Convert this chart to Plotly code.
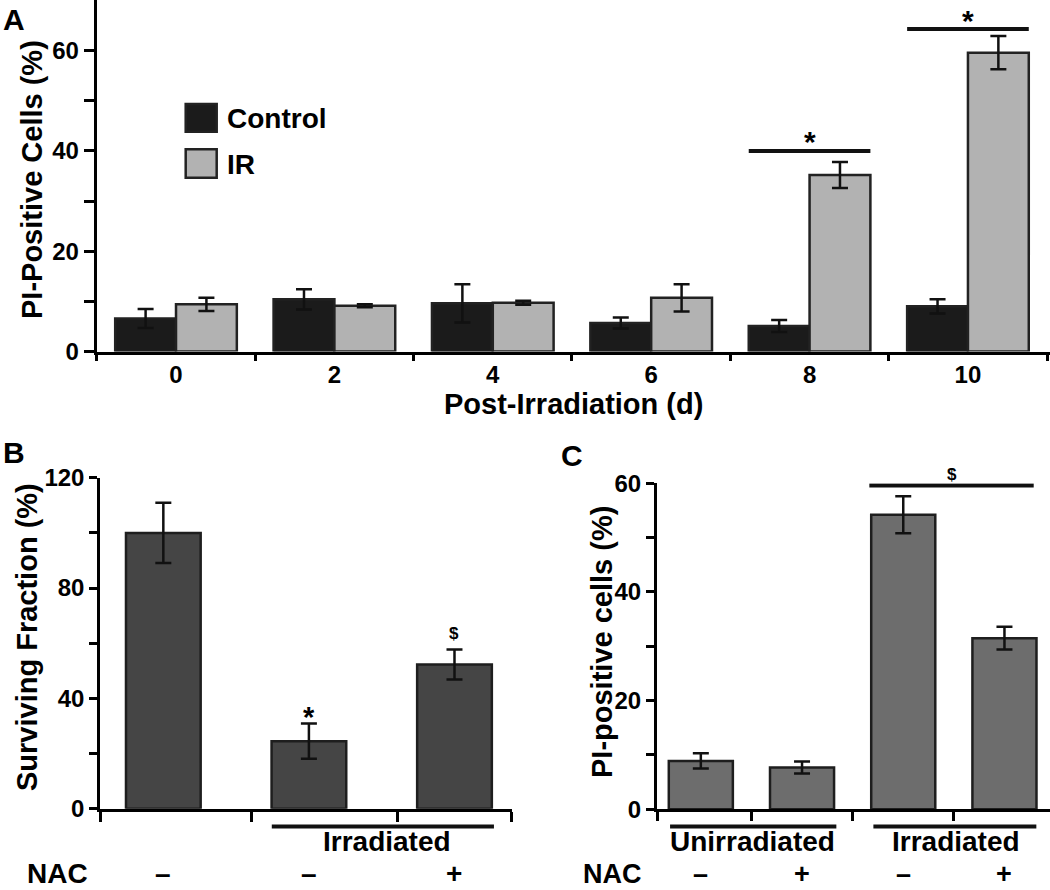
import plotly.graph_objects as go

# ---------------- data ----------------
days = ["0", "2", "4", "6", "8", "10"]
control_vals = [6.6, 10.4, 9.6, 5.7, 5.1, 9.0]
control_err = [1.9, 2.0, 3.8, 1.1, 1.2, 1.4]
ir_vals = [9.4, 9.1, 9.7, 10.7, 35.2, 59.6]
ir_err = [1.3, 0.3, 0.4, 2.7, 2.6, 3.3]

b_groups = ["Control", "Irradiated", "Irradiated + NAC"]
b_vals = [100.0, 24.5, 52.3]
b_err = [10.9, 6.4, 5.4]
b_nac = ["–", "–", "+"]

c_groups = ["Unirradiated", "Unirradiated + NAC", "Irradiated", "Irradiated + NAC"]
c_vals = [8.9, 7.7, 54.2, 31.5]
c_err = [1.4, 1.1, 3.4, 2.1]
c_nac = ["–", "+", "–", "+"]

W, H = 1050, 890
FONT = "Arial"


def px(x):
    return x / W


def py(y):
    return 1 - y / H


fig = go.Figure()

# ---------- Panel A ----------
xa = list(range(len(days)))
bw = 0.384
err_style = dict(type="data", thickness=2.5, width=8, color="#111111")
fig.add_trace(go.Bar(
    x=xa, y=control_vals, width=bw, offset=-bw, name="Control",
    marker=dict(color="#1b1b1b", line=dict(color="#222222", width=2.5)),
    error_y=dict(array=control_err, **err_style),
    xaxis="x", yaxis="y", showlegend=False))
fig.add_trace(go.Bar(
    x=xa, y=ir_vals, width=bw, offset=0, name="IR",
    marker=dict(color="#b2b2b2", line=dict(color="#222222", width=2.5)),
    error_y=dict(array=ir_err, **err_style),
    xaxis="x", yaxis="y", showlegend=False))

# ---------- Panel B ----------
xb = list(range(len(b_vals)))
fig.add_trace(go.Bar(
    x=xb, y=b_vals, width=0.513, name="Surviving fraction",
    marker=dict(color="#454545", line=dict(color="#1e1e1e", width=2.5)),
    error_y=dict(array=b_err, **err_style),
    xaxis="x2", yaxis="y2", showlegend=False))

# ---------- Panel C ----------
xc = list(range(len(c_vals)))
fig.add_trace(go.Bar(
    x=xc, y=c_vals, width=0.633, name="PI-positive cells",
    marker=dict(color="#6d6d6d", line=dict(color="#1e1e1e", width=2.5)),
    error_y=dict(array=c_err, **err_style),
    xaxis="x3", yaxis="y3", showlegend=False))

tickfont = dict(family=FONT, size=24, color="black", weight="bold")
axis_common = dict(showline=True, linecolor="black", linewidth=2.5, showgrid=False,
                   zeroline=False, ticks="outside", tickwidth=2.5, automargin=False,
                   fixedrange=True, tickfont=tickfont)

fig.update_layout(
    width=W, height=H, margin=dict(l=0, r=0, t=0, b=0, autoexpand=False),
    paper_bgcolor="white", plot_bgcolor="white", barmode="overlay",
    xaxis=dict(domain=[px(96.5), 1.0], range=[-0.502, 5.518], anchor="y",
               tickmode="array", tickvals=xa, ticktext=days,
               ticklen=0, tickcolor="rgba(0,0,0,0)", **axis_common,
               minor=dict(tickmode="array", tickvals=[i - 0.5 for i in range(len(days) + 1)],
                          ticks="outside", ticklen=7, tickwidth=2.5, tickcolor="black")),
    yaxis=dict(domain=[py(351.5), 1.0], range=[0, 70.1], anchor="x",
               tickmode="array", tickvals=[0, 10, 20, 30, 40, 50, 60],
               ticktext=["0", "", "20", "", "40", "", "60"], ticklen=10,
               tickcolor="black", **axis_common),
    xaxis2=dict(domain=[px(100), px(512)], range=[-0.435, 2.395], anchor="y2",
                tickmode="array", tickvals=[-0.43, 0.609, 1.61, 2.39],
                showticklabels=False, ticklen=10, tickcolor="black", **axis_common),
    yaxis2=dict(domain=[py(808.8), py(477.7)], range=[0, 120], anchor="x2",
                tickmode="array", tickvals=[0, 20, 40, 60, 80, 100, 120],
                ticktext=["0", "", "40", "", "80", "", "120"], ticklen=8,
                tickcolor="black", **axis_common),
    xaxis3=dict(domain=[px(656.7), 1.0], range=[-0.436, 3.45], anchor="y3",
                tickmode="array", tickvals=[-0.43, 0.5, 1.5, 2.5],
                showticklabels=False, ticklen=9, tickcolor="black", **axis_common),
    yaxis3=dict(domain=[py(809.3), py(483.3)], range=[0, 60], anchor="x3",
                tickmode="array", tickvals=[0, 10, 20, 30, 40, 50, 60],
                ticktext=["0", "", "20", "", "40", "", "60"], ticklen=8,
                tickcolor="black", **axis_common),
)

shapes = []
annots = []


def txt(text, x, y, size, xref="paper", yref="paper", angle=0, xanchor="center",
        yanchor="middle", yshift=0):
    annots.append(dict(text=text, x=x, y=y, xref=xref, yref=yref, showarrow=False,
                       textangle=angle, xanchor=xanchor, yanchor=yanchor, yshift=yshift,
                       font=dict(family=FONT, size=size, color="black", weight="bold")))


# Panel letters
txt("A", px(14), py(19), 30)
txt("B", px(14), py(452), 30)
txt("C", px(572), py(455), 30)

# Axis titles
txt("PI-Positive Cells (%)", px(32), py(180), 29, angle=-90)
txt("Post-Irradiation (d)", px(573), py(404), 29)
txt("Surviving Fraction (%)", px(27), py(637), 29, angle=-90)
txt("PI-positive cells (%)", px(602), py(642), 29, angle=-90)

# Legend (panel A)
for (label, color, y0, y1) in [("Control", "#1b1b1b", 104, 131.7), ("IR", "#b2b2b2", 149.3, 177.7)]:
    shapes.append(dict(type="rect", xref="paper", yref="paper",
                       x0=px(185.7), x1=px(216.7), y0=py(y1), y1=py(y0),
                       fillcolor=color, line=dict(color="#222222", width=2.5)))
    txt(label, px(225), py((y0 + y1) / 2 + 1), 28, xanchor="left")

# Significance bars panel A
for (cat, yv) in [(4, 40.0), (5, 64.3)]:
    shapes.append(dict(type="line", xref="x", yref="y", x0=cat - bw, x1=cat + bw,
                       y0=yv, y1=yv, line=dict(color="#111111", width=4)))
    txt("*", cat, yv, 30, xref="x", yref="y", yshift=9)

ROW1, ROW2, RF = 841, 873.5, 27

# Panel B annotations
txt("*", 1, 33.1, 29, xref="x2", yref="y2")
txt("$", 2, 63.4, 17, xref="x2", yref="y2")
shapes.append(dict(type="line", xref="x2", yref="paper", x0=0.745, x1=2.271,
                   y0=py(826.5), y1=py(826.5), line=dict(color="#111111", width=4)))
txt("Irradiated", 1.534, py(ROW1), RF + 1, xref="x2")
txt("NAC", px(57), py(ROW2), RF + 1)
for i, s in enumerate(b_nac):
    txt(s, xb[i], py(ROW2), RF + 1, xref="x2")

# Panel C annotations
shapes.append(dict(type="line", xref="x3", yref="y3", x0=1.665, x1=3.289,
                   y0=59.6, y1=59.6, line=dict(color="#111111", width=4)))
txt("$", 2.485, py(474), 17, xref="x3")
shapes.append(dict(type="line", xref="x3", yref="paper", x0=-0.304, x1=1.339,
                   y0=py(826.5), y1=py(826.5), line=dict(color="#111111", width=4)))
shapes.append(dict(type="line", xref="x3", yref="paper", x0=1.705, x1=3.315,
                   y0=py(826.5), y1=py(826.5), line=dict(color="#111111", width=4)))
txt("Unirradiated", 0.51, py(ROW1), RF + 1, xref="x3")
txt("Irradiated", 2.518, py(ROW1), RF + 1, xref="x3")
txt("NAC", px(612), py(ROW2), RF)
for i, s in enumerate(c_nac):
    txt(s, xc[i], py(ROW2), RF, xref="x3")

fig.update_layout(shapes=shapes, annotations=annots)
fig.write_html("out.html", config={"displayModeBar": False},
               post_script="document.body.style.margin='0';document.body.style.overflow='hidden';")
